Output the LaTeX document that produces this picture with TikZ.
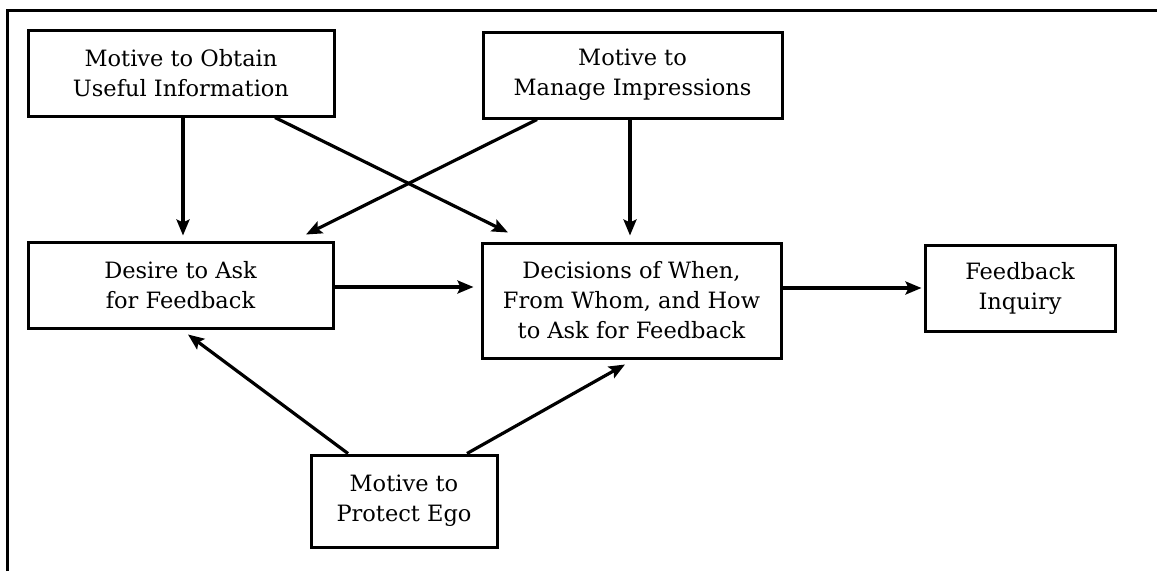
\documentclass[tikz,border=0pt]{standalone}
\usepackage{fontspec}
\setmainfont{DejaVu Serif}
\usetikzlibrary{arrows.meta}
\begin{document}
\begin{tikzpicture}[x=1pt,y=-1pt,
  box/.style={draw,line width=3pt,rectangle,align=center,inner sep=0pt,
    font=\fontsize{22.5}{30}\selectfont},
  link/.style={line width=3.2pt,-{Stealth[length=16pt,width=13pt,inset=3pt]}}]
  \useasboundingbox (0,0) rectangle (1157,571);
  % outer frame: top and left rules only
  \draw[line width=2.4pt] (7.5,571) -- (7.5,10.5) -- (1157,10.5);

  \node[box,minimum width=306pt,minimum height=86pt] (info) at (181,73)
    {Motive to Obtain\\Useful Information};
  \node[box,minimum width=299pt,minimum height=86pt] (impr) at (632.5,75)
    {Motive to\\Manage Impressions};
  \node[box,minimum width=305pt,minimum height=86pt] (desire) at (180.5,285)
    {Desire to Ask\\for Feedback};
  \node[box,minimum width=299pt,minimum height=115pt] (dec) at (631.5,300.5)
    {Decisions of When,\\From Whom, and How\\to Ask for Feedback};
  \node[box,minimum width=190pt,minimum height=86pt] (inq) at (1020,288)
    {Feedback\\Inquiry};
  \node[box,minimum width=186pt,minimum height=92pt] (ego) at (404,501)
    {Motive to\\Protect Ego};

  \draw[link] ([xshift=2pt]info.south) -- ([xshift=2.5pt,yshift=5pt]desire.north);
  \draw[link] ([xshift=94pt]info.south) -- ([xshift=-123.5pt,yshift=9pt]dec.north);
  \draw[link] ([xshift=-95.5pt]impr.south) -- ([xshift=125.5pt,yshift=6pt]desire.north);
  \draw[link] ([xshift=-2.5pt]impr.south) -- ([xshift=-1.5pt,yshift=6pt]dec.north);
  \draw[link] ([yshift=-2pt]desire.east) -- ([xshift=-7pt,yshift=13.5pt]dec.west);
  \draw[link] ([yshift=12.5pt]dec.east) -- ([xshift=-2pt]inq.west);
  \draw[link] ([xshift=-56pt]ego.north) -- ([xshift=7.5pt,yshift=-5pt]desire.south);
  \draw[link] ([xshift=63pt]ego.north) -- ([xshift=-6.5pt,yshift=-5pt]dec.south);
\end{tikzpicture}
\end{document}
